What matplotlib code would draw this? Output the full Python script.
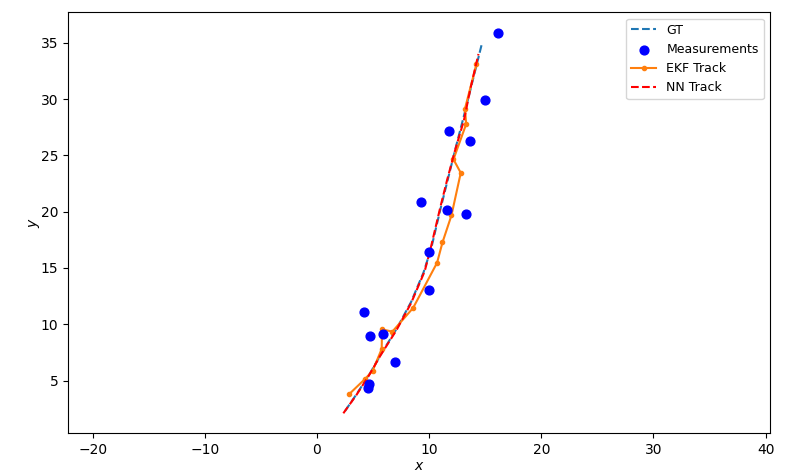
import numpy as np
import matplotlib
matplotlib.use('Agg')
import matplotlib.pyplot as plt

# ground truth trajectory
gt_x = [2.5, 3.6, 4.7, 5.8, 7.1, 8.4, 9.5, 10.2, 11.0, 11.7, 12.4, 13.1, 13.9, 14.7]
gt_y = [2.3, 3.9, 5.6, 7.5, 9.6, 12.0, 14.6, 16.8, 20.2, 23.0, 25.8, 28.5, 31.7, 34.9]

# noisy measurements
meas_x = [4.55, 4.64, 6.99, 4.76, 5.92, 4.22, 10.03, 9.97, 13.30, 11.63, 9.31, 13.60, 11.81, 14.94, 16.16]
meas_y = [4.37, 4.68, 6.63, 8.99, 9.11, 11.06, 13.04, 16.44, 19.82, 20.14, 20.83, 26.29, 27.15, 29.90, 35.90]

# EKF estimate
ekf_x = [2.89, 4.32, 4.97, 5.77, 5.80, 6.72, 8.57, 10.71, 11.19, 11.99, 12.82, 12.17, 13.30, 13.20, 14.21]
ekf_y = [3.82, 5.18, 5.89, 7.81, 9.55, 9.35, 11.45, 15.47, 17.27, 19.67, 23.45, 24.64, 27.77, 29.16, 33.07]

# NN estimate
nn_x = [2.35, 3.5, 4.6, 5.7, 7.1, 8.4, 9.6, 10.1, 11.0, 11.6, 12.3, 13.1, 13.7, 14.4]
nn_y = [2.1, 3.7, 5.4, 7.3, 9.5, 11.9, 14.7, 16.6, 20.4, 22.8, 25.4, 28.1, 31.0, 34.0]

fig, ax = plt.subplots(figsize=(7.85, 4.74), dpi=100)
fig.subplots_adjust(left=0.0866, right=0.981, bottom=0.0865, top=0.974)

ax.plot(gt_x, gt_y, '--', color='tab:blue', label='GT')
ax.scatter(meas_x, meas_y, s=40, color='blue', label='Measurements', zorder=3)
ax.plot(ekf_x, ekf_y, '-o', color='tab:orange', markersize=3, label='EKF Track')
ax.plot(nn_x, nn_y, 'r--', label='NN Track')

ax.set_xlim(-22.2, 40.4)
ax.set_ylim(0.35, 37.7)
ax.set_xlabel('$x$', labelpad=1.5)
ax.set_ylabel('$y$', labelpad=-1)
ax.legend(loc='upper right', fontsize=9)

plt.savefig('out.png')
